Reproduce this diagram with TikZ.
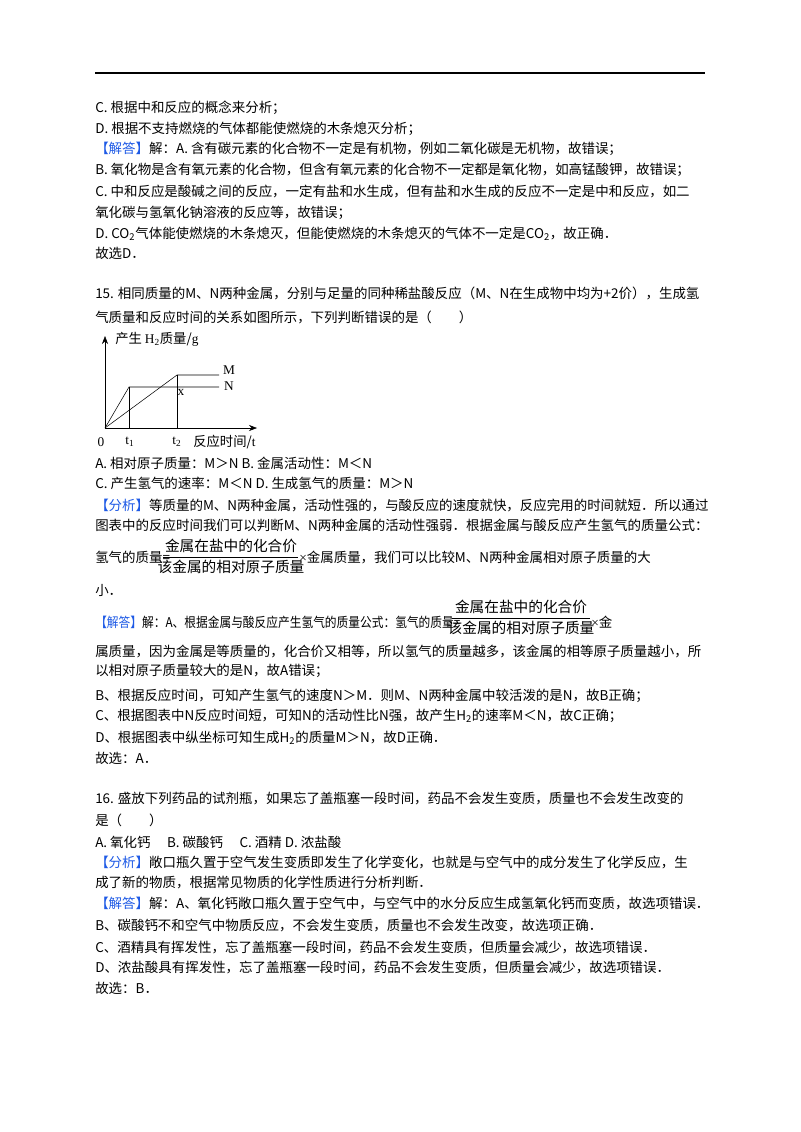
\documentclass[tikz,border=0pt]{standalone}
\usepackage{fontspec}
\setmainfont{Noto Sans CJK SC}
\newfontfamily\lat{Liberation Serif}
\usetikzlibrary{arrows.meta}
\definecolor{tagblue}{RGB}{30,90,230}
\newcommand{\tg}[1]{\textcolor{tagblue}{【#1】}}
\tikzset{ln/.style={anchor=base west,inner sep=0pt,font=\fontsize{10.1pt}{12pt}\selectfont},
 gl/.style={inner sep=0pt,font=\lat\fontsize{10pt}{12pt}\selectfont},
 fr/.style={inner sep=0pt,font=\fontsize{11pt}{13pt}\selectfont}}
\begin{document}
\begin{tikzpicture}[x=0.75pt,y=-0.75pt]
\useasboundingbox (0,0) rectangle (800,1132);
\fill[white] (0,0) rectangle (800,1132);
\draw[line width=0.8pt] (95,73) -- (705,73);
\node[ln] (l1) at (95,112) {C. 根据中和反应的概念来分析；};
\node[ln] (l2) at (95,133) {D. 根据不支持燃烧的气体都能使燃烧的木条熄灭分析；};
\node[ln] (l3) at (95,153) {\tg{解答}解：A. 含有碳元素的化合物不一定是有机物，例如二氧化碳是无机物，故错误；};
\node[ln] (l4) at (95,174) {B. 氧化物是含有氧元素的化合物，但含有氧元素的化合物不一定都是氧化物，如高锰酸钾，故错误；};
\node[ln] (l5) at (95,196) {C. 中和反应是酸碱之间的反应，一定有盐和水生成，但有盐和水生成的反应不一定是中和反应，如二};
\node[ln] (l6) at (95,217) {氧化碳与氢氧化钠溶液的反应等，故错误；};
\node[ln] (l7) at (95,238) {D. CO\textsubscript{2}气体能使燃烧的木条熄灭，但能使燃烧的木条熄灭的气体不一定是CO\textsubscript{2}，故正确．};
\node[ln] (l8) at (95,258) {故选D．};
\node[ln] (q1) at (95,298) {15. 相同质量的M、N两种金属，分别与足量的同种稀盐酸反应（M、N在生成物中均为+2价），生成氢};
\node[ln] (q2) at (95,322) {气质量和反应时间的关系如图所示，下列判断错误的是（　　）};
% graph
\coordinate (o) at (105,428);
\coordinate (yt) at (105,336);
\coordinate (xt) at (257,428);
\draw[-{Stealth[length=6pt]}] (o) -- (yt);
\draw[-{Stealth[length=6pt]}] (o) -- (xt);
\coordinate (pn) at (129,387);
\coordinate (pm) at (177,375);
\coordinate (en) at (219,387);
\coordinate (em) at (219,375);
\draw (o) -- (pn) -- (en);
\draw (o) -- (pm) -- (em);
\draw (pn) -- (129,428);
\draw (pm) -- (177,428);
\node[gl] (lm) at (229,370) {M};
\node[gl] (lnn) at (229,386) {N};
\node[gl] (lx) at (181,392) {x};
\node[anchor=west,inner sep=0pt,font=\fontsize{10pt}{12pt}\selectfont] (yl) at (115,339) {产生 {\lat H\textsubscript{2}}质量/{\lat g}};
\node[gl] (z0) at (101,442) {0};
\node[gl] (t1) at (130,442) {t\textsubscript{1}};
\node[gl] (t2) at (177,442) {t\textsubscript{2}};
\node[anchor=west,inner sep=0pt,font=\fontsize{10pt}{12pt}\selectfont] (xl) at (193,442) {反应时间/{\lat t}};
\node[ln] (a1) at (95,468) {A. 相对原子质量：M＞N B. 金属活动性：M＜N};
\node[ln] (a2) at (95,488) {C. 产生氢气的速率：M＜N D. 生成氢气的质量：M＞N};
\node[ln] (a3) at (95,510) {\tg{分析}等质量的M、N两种金属，活动性强的，与酸反应的速度就快，反应完用的时间就短．所以通过};
\node[ln] (a4) at (95,530) {图表中的反应时间我们可以判断M、N两种金属的活动性强弱．根据金属与酸反应产生氢气的质量公式：};
\node[ln] (a5) at (95,562) {氢气的质量=};
\node[fr] (f1n) at (231,546) {金属在盐中的化合价};
\node[fr] (f1d) at (231,567) {该金属的相对原子质量};
\draw (163,557) -- (298,557);
\node[ln] (a5b) at (299,562) {{\lat ×}金属质量，我们可以比较M、N两种金属相对原子质量的大};
\node[ln] (a6) at (95,595) {小．};
\node[ln] (b1) at (95,627) {\scalebox{0.87}[1]{\tg{解答}解：A、根据金属与酸反应产生氢气的质量公式：氢气的质量=}};
\node[fr] (f2n) at (521,607) {金属在盐中的化合价};
\node[fr] (f2d) at (521,628) {该金属的相对原子质量};
\draw (452,618) -- (590,618);
\node[ln] (b1b) at (591,627) {{\lat ×}金};
\node[ln] (b2) at (95,656) {属质量，因为金属是等质量的，化合价又相等，所以氢气的质量越多，该金属的相等原子质量越小，所};
\node[ln] (b3) at (95,675) {以相对原子质量较大的是N，故A错误；};
\node[ln] (b4) at (95,700) {B、根据反应时间，可知产生氢气的速度N＞M．则M、N两种金属中较活泼的是N，故B正确；};
\node[ln] (b5) at (95,720) {C、根据图表中N反应时间短，可知N的活动性比N强，故产生H\textsubscript{2}的速率M＜N，故C正确；};
\node[ln] (b6) at (95,742) {D、根据图表中纵坐标可知生成H\textsubscript{2}的质量M＞N，故D正确．};
\node[ln] (b7) at (95,763) {故选：A．};
\node[ln] (c1) at (95,803) {16. 盛放下列药品的试剂瓶，如果忘了盖瓶塞一段时间，药品不会发生变质，质量也不会发生改变的};
\node[ln] (c2) at (95,825) {是（　　）};
\node[ln] (c3) at (95,847) {A. 氧化钙　 B. 碳酸钙　 C. 酒精 D. 浓盐酸};
\node[ln] (c4) at (95,867) {\tg{分析}敞口瓶久置于空气发生变质即发生了化学变化，也就是与空气中的成分发生了化学反应，生};
\node[ln] (c5) at (95,887) {成了新的物质，根据常见物质的化学性质进行分析判断．};
\node[ln] (c6) at (95,908) {\tg{解答}解：A、氧化钙敞口瓶久置于空气中，与空气中的水分反应生成氢氧化钙而变质，故选项错误．};
\node[ln] (c7) at (95,930) {B、碳酸钙不和空气中物质反应，不会发生变质，质量也不会发生改变，故选项正确．};
\node[ln] (c8) at (95,952) {C、酒精具有挥发性，忘了盖瓶塞一段时间，药品不会发生变质，但质量会减少，故选项错误．};
\node[ln] (c9) at (95,972) {D、浓盐酸具有挥发性，忘了盖瓶塞一段时间，药品不会发生变质，但质量会减少，故选项错误．};
\node[ln] (c10) at (95,993) {故选：B．};
\end{tikzpicture}
\end{document}
